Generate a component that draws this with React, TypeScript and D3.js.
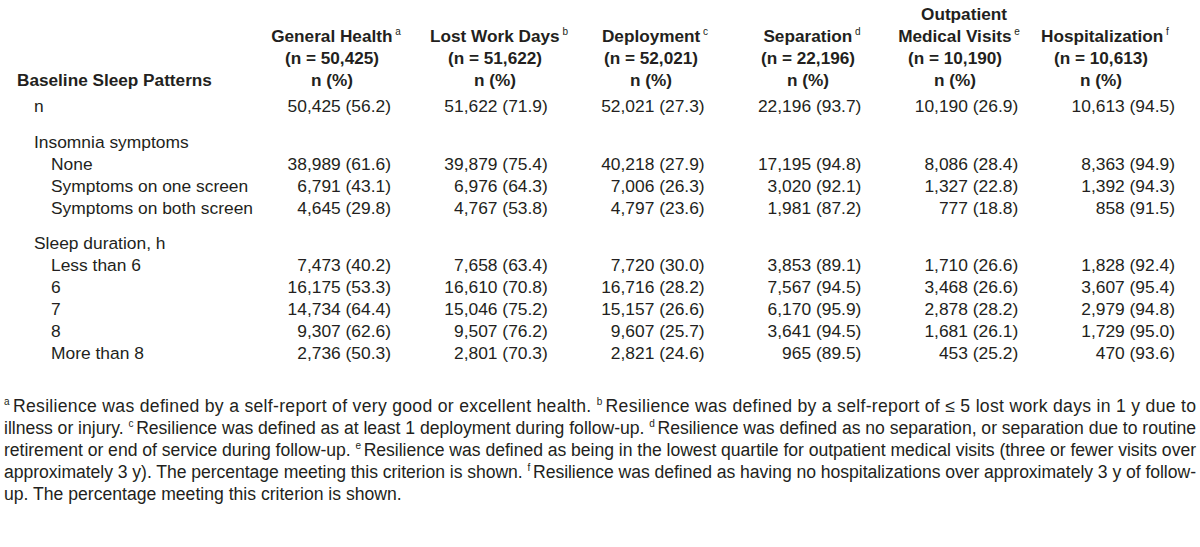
import React from "react";
import * as d3 from "d3";

// ---------- DATA ----------
const columnTitles = ["General Health", "Lost Work Days", "Deployment", "Separation", "Medical Visits", "Hospitalization"];
const columnTitleTop = ["", "", "", "", "Outpatient", ""];
const columnSup = ["a", "b", "c", "d", "e", "f"];
const columnN = [50425, 51622, 52021, 22196, 10190, 10613];

const rowLabels = [
  "n",
  "Insomnia symptoms",
  "None",
  "Symptoms on one screen",
  "Symptoms on both screen",
  "Sleep duration, h",
  "Less than 6",
  "6",
  "7",
  "8",
  "More than 8",
];
const rowLevel = [1, 1, 2, 2, 2, 1, 2, 2, 2, 2, 2];
const rowIsGroup = [false, true, false, false, false, true, false, false, false, false, false];

const generalHealthN = [50425, null, 38989, 6791, 4645, null, 7473, 16175, 14734, 9307, 2736];
const generalHealthPct = [56.2, null, 61.6, 43.1, 29.8, null, 40.2, 53.3, 64.4, 62.6, 50.3];
const lostWorkN = [51622, null, 39879, 6976, 4767, null, 7658, 16610, 15046, 9507, 2801];
const lostWorkPct = [71.9, null, 75.4, 64.3, 53.8, null, 63.4, 70.8, 75.2, 76.2, 70.3];
const deploymentN = [52021, null, 40218, 7006, 4797, null, 7720, 16716, 15157, 9607, 2821];
const deploymentPct = [27.3, null, 27.9, 26.3, 23.6, null, 30.0, 28.2, 26.6, 25.7, 24.6];
const separationN = [22196, null, 17195, 3020, 1981, null, 3853, 7567, 6170, 3641, 965];
const separationPct = [93.7, null, 94.8, 92.1, 87.2, null, 89.1, 94.5, 95.9, 94.5, 89.5];
const outpatientN = [10190, null, 8086, 1327, 777, null, 1710, 3468, 2878, 1681, 453];
const outpatientPct = [26.9, null, 28.4, 22.8, 18.8, null, 26.6, 26.6, 28.2, 26.1, 25.2];
const hospitalizationN = [10613, null, 8363, 1392, 858, null, 1828, 3607, 2979, 1729, 470];
const hospitalizationPct = [94.5, null, 94.9, 94.3, 91.5, null, 92.4, 95.4, 94.8, 95.0, 93.6];

const footnoteLines: { sup?: string; text: string }[][] = [
  [
    { sup: "a", text: "Resilience was defined by a self-report of very good or excellent health. " },
    { sup: "b", text: "Resilience was defined by a self-report of \u2264 5 lost work days in 1 y due to" },
  ],
  [
    { text: "illness or injury. " },
    { sup: "c", text: "Resilience was defined as at least 1 deployment during follow-up. " },
    { sup: "d", text: "Resilience was defined as no separation, or separation due to routine" },
  ],
  [
    { text: "retirement or end of service during follow-up. " },
    { sup: "e", text: "Resilience was defined as being in the lowest quartile for outpatient medical visits (three or fewer visits over" },
  ],
  [
    { text: "approximately 3 y). The percentage meeting this criterion is shown. " },
    { sup: "f", text: "Resilience was defined as having no hospitalizations over approximately 3 y of follow-" },
  ],
  [{ text: "up. The percentage meeting this criterion is shown." }],
];

// ---------- LAYOUT ----------
const W = 1200;
const H = 547;
const FONT = "'Liberation Sans', Arial, sans-serif";
const FS = 17.4;
const FS_HEAD = 17.2;
const FS_NOTE = 17.6;
const TEXT = "#231f20";

export default function App() {
  const counts = [generalHealthN, lostWorkN, deploymentN, separationN, outpatientN, hospitalizationN];
  const pcts = [generalHealthPct, lostWorkPct, deploymentPct, separationPct, outpatientPct, hospitalizationPct];
  const fmtN = d3.format(",");
  const fmtP = d3.format(".1f");

  const colRight = d3.scalePoint<number>().domain(d3.range(6)).range([391, 1175]);
  const headerCenter = [332, 495, 651, 808, 955, 1101];

  // vertical positions of rows (centers)
  const rowY: number[] = [];
  let y = 106;
  rowLabels.forEach((_, i) => {
    if (i > 0) y += 22 + (rowIsGroup[i] ? 13.5 : 0);
    rowY.push(y);
  });
  const indentX = d3.scaleOrdinal<number, number>().domain([0, 1, 2]).range([17, 34, 51]);

  const headerBase = [20, 42, 64, 86];

  return (
    <svg
      width={W}
      height={H}
      viewBox={`0 0 ${W} ${H}`}
      style={{ position: "absolute", left: 0, top: 0, background: "#fff" }}
      fontFamily={FONT}
      fill={TEXT}
    >
      <rect width={W} height={H} fill="#fff" />
      {/* header */}
      <text x={indentX(0)} y={headerBase[3]} fontSize={FS_HEAD} fontWeight="bold">
        Baseline Sleep Patterns
      </text>
      {columnTitles.map((t, c) => (
        <g key={c} fontWeight="bold" fontSize={FS_HEAD} textAnchor="middle">
          {columnTitleTop[c] && (
            <text x={headerCenter[c] + 9} y={headerBase[0]}>
              {columnTitleTop[c]}
            </text>
          )}
          <text x={headerCenter[c] + 4} y={headerBase[1]}>
            {t}
            <tspan fontSize={10} fontWeight="normal" dy={-7}>
              {" " + columnSup[c]}
            </tspan>
          </text>
          <text x={headerCenter[c]} y={headerBase[2]}>
            {`(n = ${fmtN(columnN[c])})`}
          </text>
          <text x={headerCenter[c]} y={headerBase[3]}>
            n (%)
          </text>
        </g>
      ))}
      {/* body */}
      {rowLabels.map((lab, i) => (
        <g key={i} fontSize={FS}>
          <text x={indentX(rowLevel[i])} y={rowY[i] + 6}>
            {lab}
          </text>
          {counts.map((col, c) =>
            col[i] == null ? null : (
              <text key={c} x={colRight(c)} y={rowY[i] + 6} textAnchor="end">
                {`${fmtN(col[i] as number)} (${fmtP(pcts[c][i] as number)})`}
              </text>
            )
          )}
        </g>
      ))}
      {/* footnotes */}
      {footnoteLines.map((parts, li) => (
        <text
          key={li}
          x={4}
          y={412 + li * 22}
          fontSize={FS_NOTE}
          textLength={li < footnoteLines.length - 1 ? 1192 : undefined}
          lengthAdjust="spacing"
        >
          {parts.map((p, pi) => (
            <React.Fragment key={pi}>
              {p.sup && (
                <tspan fontSize={10} dy={-7}>
                  {p.sup + " "}
                </tspan>
              )}
              <tspan dy={p.sup ? 7 : 0}>{p.text}</tspan>
            </React.Fragment>
          ))}
        </text>
      ))}
    </svg>
  );
}
